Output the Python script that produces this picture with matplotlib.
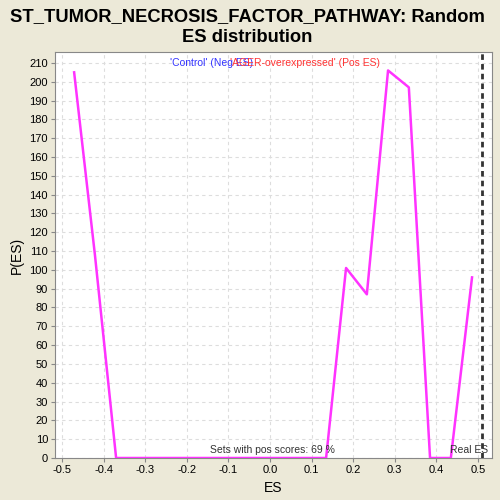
import matplotlib
matplotlib.use("Agg")
import matplotlib.pyplot as plt

plt.rcParams['font.family'] = ['Liberation Sans', 'DejaVu Sans']

es = [-0.471, -0.421, -0.370, -0.320, -0.269, -0.219, -0.168, -0.118, -0.067,
      -0.017, 0.034, 0.084, 0.135, 0.183, 0.233, 0.284, 0.334, 0.385, 0.435, 0.486]
p_es = [205, 108, 0, 0, 0, 0, 0, 0, 0, 0, 0, 0, 0, 101, 87, 206, 197, 0, 0, 96]
real_es = 0.510
x_ticks = [-0.5, -0.4, -0.3, -0.2, -0.1, 0.0, 0.1, 0.2, 0.3, 0.4, 0.5]
y_ticks = list(range(0, 211, 10))
title = "ST_TUMOR_NECROSIS_FACTOR_PATHWAY: Random\nES distribution"
pos_text = "Sets with pos scores: 69 %"

bg = '#ECE9D8'
fig = plt.figure(figsize=(5, 5), dpi=100, facecolor=bg)
ax = fig.add_axes([55/500, 42/500, 437/500, 406/500])
ax.set_facecolor('white')

ax.plot(es, p_es, color='#FF33FF', lw=1.8, zorder=3)
ax.axvline(real_es, color='#333333', lw=2, ls=(0, (2, 1.5)), zorder=4)

ax.set_xlim(-0.517, 0.534)
ax.set_ylim(0, 215.8)
ax.set_xticks(x_ticks)
ax.set_xticklabels([f"{v:.1f}" for v in x_ticks])
ax.set_yticks(y_ticks)
ax.tick_params(labelsize=8, length=3, color='#888888', pad=2)
ax.grid(True, color='#DDDDDD', ls=(0, (3, 3)), lw=0.8)
for s in ax.spines.values():
    s.set_color('#888888')

ax.set_xlabel("ES", fontsize=10)
ax.set_ylabel("P(ES)", fontsize=10)

fig.text(0.495, 0.984, title, ha='center', va='top', fontsize=13.2,
         fontweight='bold', linespacing=1.3)

ax.text(0.359, 0.974, "'Control' (Neg ES)", color='#3333FF', fontsize=7.5,
        transform=ax.transAxes, ha='center', va='center')
ax.text(0.571, 0.974, "'AGER-overexpressed' (Pos ES)", color='#FF3333', fontsize=7.5,
        transform=ax.transAxes, ha='center', va='center')
ax.text(0.497, 0.008, pos_text, color='#333333', fontsize=7.5,
        transform=ax.transAxes, ha='center', va='bottom')
ax.text(0.992, 0.008, "Real ES", color='#333333', fontsize=7.5,
        transform=ax.transAxes, ha='right', va='bottom')

fig.savefig("out.png", dpi=100, facecolor=bg)
